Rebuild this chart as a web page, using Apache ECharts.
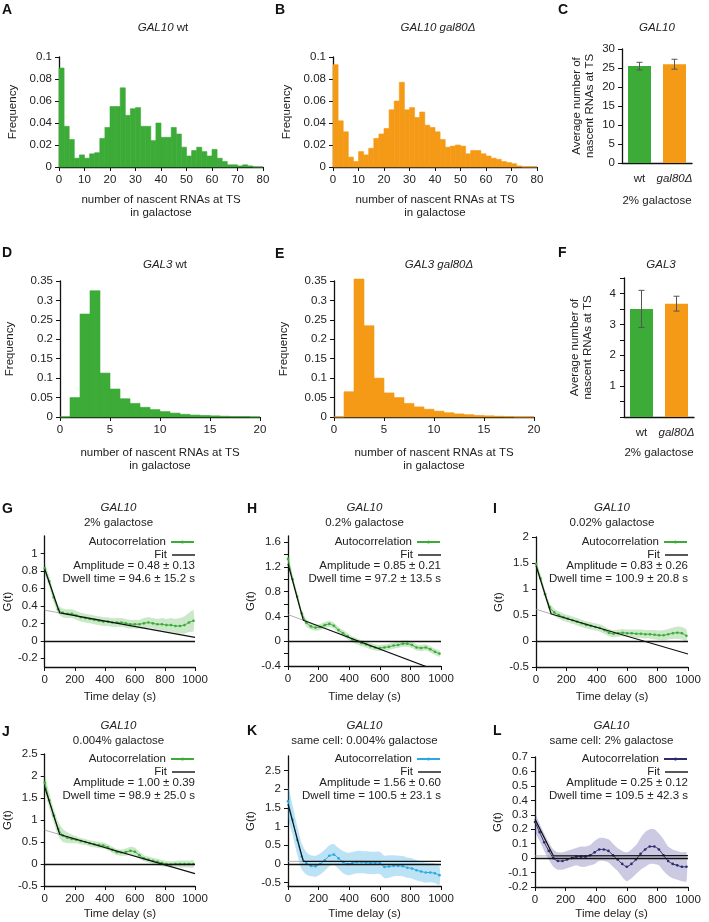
<!DOCTYPE html>
<html>
<head>
<meta charset="utf-8">
<script src="https://cdn.jsdelivr.net/npm/echarts@6.0.0/dist/echarts.min.js"></script>
<style>
  html, body { margin: 0; padding: 0; background: #fff; }
  #chart { width: 709px; height: 922px; }
</style>
</head>
<body>
<div id="chart"></div>
<script>
const FONT = '"Liberation Sans", Arial, sans-serif';
const GREEN = '#3dab37';
const ORANGE = '#f49a16';
const BLUE = '#2aa8e0';
const NAVY = '#2e2b6e';

// --- histograms (frequency per bin) ---
const binA = 2;
const freqA = [0.090, 0.037, 0.025, 0.008, 0.011, 0.008, 0.012, 0.013, 0.026, 0.036,
  0.055, 0.055, 0.072, 0.047, 0.053, 0.054, 0.037, 0.037, 0.024, 0.040,
  0.027, 0.027, 0.036, 0.030, 0.018, 0.010, 0.015, 0.018, 0.014, 0.010,
  0.016, 0.008, 0.005, 0.002, 0.002, 0.001, 0.002, 0.001, 0, 0];
const freqB = [0.093, 0.042, 0.032, 0.009, 0.005, 0.014, 0.011, 0.017, 0.026, 0.030,
  0.035, 0.052, 0.060, 0.077, 0.052, 0.054, 0.045, 0.050, 0.038, 0.036,
  0.032, 0.025, 0.018, 0.019, 0.020, 0.019, 0.012, 0.015, 0.015, 0.012,
  0.010, 0.008, 0.007, 0.005, 0.004, 0.003, 0.001, 0, 0, 0];
const binD = 1;
const freqD = [0, 0.050, 0.265, 0.325, 0.113, 0.072, 0.047, 0.035, 0.025, 0.019,
  0.014, 0.010, 0.007, 0.005, 0.004, 0.003, 0.002, 0.001, 0.001, 0];
const freqE = [0, 0.065, 0.355, 0.235, 0.100, 0.062, 0.050, 0.035, 0.026, 0.020,
  0.015, 0.011, 0.008, 0.006, 0.004, 0.003, 0.002, 0.001, 0, 0];

// --- average bars ---
const barCats = ['wt', 'gal80Δ'];
const meanC = [25.5, 26.0];
const errC = [1.0, 1.3];
const meanF = [3.5, 3.67];
const errF = [0.6, 0.24];

// --- autocorrelation ---
const timeDelay = [0, 30, 60, 90, 120, 150, 180, 210, 240, 270, 300, 330, 360, 390, 420, 450, 480,
  510, 540, 570, 600, 630, 660, 690, 720, 750, 780, 810, 840, 870, 900, 930, 960, 990];

const acG = [0.83, 0.68, 0.50, 0.36, 0.32, 0.31, 0.31, 0.29, 0.27, 0.26, 0.25, 0.24, 0.23, 0.22, 0.22, 0.21, 0.21,
  0.21, 0.20, 0.19, 0.19, 0.19, 0.20, 0.21, 0.20, 0.19, 0.19, 0.18, 0.18, 0.17, 0.17, 0.18, 0.21, 0.23];
const sdG = [0.06, 0.06, 0.06, 0.05, 0.05, 0.05, 0.05, 0.05, 0.05, 0.05, 0.05, 0.05, 0.05, 0.05, 0.05, 0.05, 0.05,
  0.05, 0.05, 0.05, 0.05, 0.05, 0.06, 0.06, 0.06, 0.06, 0.07, 0.07, 0.08, 0.08, 0.09, 0.10, 0.11, 0.12];
const fitG = [[0, 0.82], [100, 0.32], [1000, 0.04]];
const extG = [[0, 0.35], [100, 0.32]];

const acH = [1.33, 1.00, 0.72, 0.45, 0.30, 0.24, 0.22, 0.23, 0.26, 0.28, 0.25, 0.18, 0.13, 0.08, 0.03, 0.00, -0.03,
  -0.05, -0.08, -0.10, -0.11, -0.10, -0.09, -0.07, -0.06, -0.04, -0.04, -0.06, -0.10, -0.11, -0.10, -0.13, -0.17, -0.20];
const sdH = [0.08, 0.07, 0.07, 0.06, 0.06, 0.05, 0.05, 0.05, 0.05, 0.05, 0.05, 0.05, 0.05, 0.05, 0.05, 0.05, 0.05,
  0.05, 0.05, 0.05, 0.05, 0.05, 0.05, 0.05, 0.05, 0.05, 0.05, 0.05, 0.05, 0.05, 0.05, 0.05, 0.05, 0.05];
const fitH = [[0, 1.25], [100, 0.34], [1000, -0.5]];
const extH = [[0, 0.43], [100, 0.34]];

const acI = [1.48, 1.20, 0.90, 0.65, 0.55, 0.50, 0.46, 0.43, 0.40, 0.37, 0.34, 0.31, 0.29, 0.27, 0.25, 0.21, 0.16,
  0.14, 0.15, 0.16, 0.15, 0.15, 0.14, 0.14, 0.13, 0.13, 0.12, 0.11, 0.11, 0.13, 0.15, 0.16, 0.15, 0.10];
const sdI = [0.08, 0.08, 0.08, 0.08, 0.07, 0.07, 0.07, 0.07, 0.07, 0.07, 0.07, 0.07, 0.07, 0.07, 0.07, 0.07, 0.07,
  0.07, 0.07, 0.07, 0.07, 0.07, 0.08, 0.08, 0.08, 0.08, 0.09, 0.09, 0.10, 0.10, 0.11, 0.12, 0.12, 0.12];
const fitI = [[0, 1.45], [100, 0.52], [1000, -0.25]];
const extI = [[0, 0.61], [100, 0.52]];

const acJ = [1.85, 1.45, 1.10, 0.80, 0.65, 0.60, 0.57, 0.55, 0.52, 0.50, 0.47, 0.45, 0.43, 0.42, 0.38, 0.32, 0.27,
  0.26, 0.27, 0.30, 0.28, 0.20, 0.13, 0.10, 0.07, 0.05, 0.02, 0.00, -0.01, 0.00, 0.00, 0.00, 0.00, 0.00];
const sdJ = [0.18, 0.17, 0.16, 0.16, 0.15, 0.12, 0.10, 0.08, 0.07, 0.07, 0.07, 0.07, 0.07, 0.07, 0.07, 0.07, 0.07,
  0.07, 0.08, 0.09, 0.09, 0.08, 0.07, 0.07, 0.07, 0.07, 0.07, 0.07, 0.07, 0.07, 0.08, 0.08, 0.08, 0.08];
const fitJ = [[0, 1.75], [100, 0.67], [1000, -0.22]];
const extJ = [[0, 0.77], [100, 0.67]];

const acK = [1.68, 1.18, 0.64, 0.20, 0.02, -0.05, -0.06, 0.00, 0.10, 0.22, 0.25, 0.15, 0.05, 0.00, 0.02, 0.05, 0.05,
  0.04, 0.03, 0.03, 0.03, -0.08, -0.07, -0.05, -0.05, -0.06, -0.10, -0.12, -0.17, -0.20, -0.23, -0.23, -0.25, -0.30];
const sdK = [0.40, 0.40, 0.38, 0.35, 0.30, 0.28, 0.28, 0.28, 0.28, 0.28, 0.28, 0.28, 0.30, 0.30, 0.30, 0.30, 0.30,
  0.30, 0.30, 0.30, 0.30, 0.30, 0.30, 0.28, 0.27, 0.27, 0.27, 0.27, 0.27, 0.27, 0.27, 0.26, 0.26, 0.26];
const fitK = [[0, 1.6], [100, 0.07], [1000, 0.07]];
const extK = [[0, 0.07], [100, 0.07]];

const acL = [0.25, 0.18, 0.11, 0.05, 0.00, -0.02, -0.02, -0.01, 0.00, 0.01, 0.01, 0.01, 0.02, 0.04, 0.06, 0.06, 0.05,
  0.02, -0.01, -0.04, -0.06, -0.04, -0.01, 0.03, 0.06, 0.08, 0.08, 0.06, 0.02, -0.02, -0.04, -0.05, -0.06, -0.06];
const sdL = [0.06, 0.06, 0.06, 0.06, 0.06, 0.06, 0.06, 0.06, 0.06, 0.06, 0.07, 0.07, 0.07, 0.08, 0.08, 0.08, 0.08,
  0.08, 0.08, 0.09, 0.10, 0.10, 0.10, 0.11, 0.12, 0.12, 0.12, 0.11, 0.11, 0.10, 0.10, 0.10, 0.10, 0.10];
const fitL = [[0, 0.27], [120, 0.015], [1000, 0.017]];
const extL = [[0, 0.015], [120, 0.015]];

const chart = echarts.init(document.getElementById('chart'));

const txt = { fontFamily: FONT, fontSize: 11.5, color: '#222' };
const rich = { i: { fontFamily: FONT, fontSize: 11.5, fontStyle: 'italic', color: '#222' } };

function axisBase() {
  return {
    axisLine: { show: true, onZero: false, lineStyle: { color: '#111', width: 1.3 } },
    axisTick: { show: true, inside: false, length: 4, lineStyle: { color: '#111', width: 1 } },
    axisLabel: Object.assign({ margin: 7, rich: rich }, txt),
    splitLine: { show: false },
    nameTextStyle: Object.assign({ lineHeight: 13 }, txt),
    nameLocation: 'middle'
  };
}

const grids = [];
const xAxes = [];
const yAxes = [];
const series = [];
const titles = [];
const legends = [];

function letter(t, x, y) {
  titles.push({ text: t, left: x, top: y, padding: 0,
    textStyle: { fontFamily: FONT, fontSize: 14, fontWeight: 'bold', color: '#111' } });
}
function centerText(t, x, y) {
  titles.push({ text: t, left: x, top: y - 7, padding: 0, textAlign: 'center',
    textStyle: Object.assign({ fontWeight: 'normal', rich: rich }, txt) });
}

// histogram renderer
function histItem(color) {
  return function (params, api) {
    const p0 = api.coord([api.value(0), api.value(2)]);
    const p1 = api.coord([api.value(1), 0]);
    return { type: 'rect', shape: { x: p0[0], y: p0[1], width: p1[0] - p0[0], height: p1[1] - p0[1] },
      style: { fill: color, stroke: color, lineWidth: 0.6 } };
  };
}

function addHist(g, freq, bin, color, xMax, xInt, yMax, yInt, nameGapY) {
  const gi = grids.length;
  grids.push(g);
  xAxes.push(Object.assign(axisBase(), { gridIndex: gi, type: 'value', min: 0, max: xMax, interval: xInt,
    name: 'number of nascent RNAs at TS\nin galactose', nameGap: g.xGap }));
  yAxes.push(Object.assign(axisBase(), { gridIndex: gi, type: 'value', min: 0, max: yMax, interval: yInt,
    name: 'Frequency', nameGap: nameGapY }));
  series.push({ type: 'custom', xAxisIndex: gi, yAxisIndex: gi, renderItem: histItem(color),
    data: freq.map((f, i) => [i * bin, (i + 1) * bin, f]), z: 2 });
}

function errorBar(params, api) {
  const lo = api.coord([api.value(0), api.value(1)]);
  const hi = api.coord([api.value(0), api.value(2)]);
  const w = 3;
  const st = { stroke: '#555', lineWidth: 1 };
  return { type: 'group', children: [
    { type: 'line', shape: { x1: lo[0], y1: lo[1], x2: hi[0], y2: hi[1] }, style: st },
    { type: 'line', shape: { x1: lo[0] - w, y1: lo[1], x2: lo[0] + w, y2: lo[1] }, style: st },
    { type: 'line', shape: { x1: hi[0] - w, y1: hi[1], x2: hi[0] + w, y2: hi[1] }, style: st }
  ] };
}

function addBars(g, mean, err, yCfg, nameGapY, xGap) {
  const gi = grids.length;
  grids.push(g);
  xAxes.push(Object.assign(axisBase(), { gridIndex: gi, type: 'category', data: barCats,
    axisTick: { show: false }, name: '2% galactose', nameGap: xGap }));
  xAxes[gi].axisLabel.margin = 10;
  xAxes[gi].axisLabel.interval = 0;
  xAxes[gi].axisLabel.hideOverlap = false;
  xAxes[gi].axisLabel.formatter = v => v === 'wt' ? v : '{i|' + v + '}';
  yAxes.push(Object.assign(axisBase(), yCfg, { gridIndex: gi, type: 'value',
    name: 'Average number of\nnascent RNAs at TS', nameGap: nameGapY }));
  series.push({ type: 'bar', xAxisIndex: gi, yAxisIndex: gi, barWidth: 23,
    data: mean.map((v, i) => ({ value: v, itemStyle: { color: [GREEN, ORANGE][i] } })) });
  series.push({ type: 'custom', xAxisIndex: gi, yAxisIndex: gi, renderItem: errorBar, z: 5,
    data: mean.map((v, i) => [i, v - err[i], v + err[i]]) });
}

// top rows
letter('A', 2, 3); letter('B', 275, 3); letter('C', 558, 3);
centerText('{i|GAL10} wt', 163, 29);
centerText('{i|GAL10 gal80Δ}', 438, 29);
centerText('{i|GAL10}', 657, 29);
addHist({ left: 59, top: 57, width: 204, height: 110, xGap: 26 }, freqA, binA, GREEN, 80, 10, 0.1, 0.02, 40);
addHist({ left: 333, top: 57, width: 204, height: 110, xGap: 26 }, freqB, binA, ORANGE, 80, 10, 0.1, 0.02, 40);
addBars({ left: 622, top: 49, width: 70, height: 114 }, meanC, errC, { min: 0, max: 30, interval: 5 }, 26, 31);

letter('D', 2, 246); letter('E', 275, 247); letter('F', 558, 246);
centerText('{i|GAL3} wt', 165, 266);
centerText('{i|GAL3 gal80Δ}', 439, 266);
centerText('{i|GAL3}', 661, 266);
addHist({ left: 60, top: 281, width: 200, height: 136, xGap: 29 }, freqD, binD, GREEN, 20, 5, 0.35, 0.05, 44);
addHist({ left: 334, top: 281, width: 200, height: 136, xGap: 29 }, freqE, binD, ORANGE, 20, 5, 0.35, 0.05, 44);
addBars({ left: 624, top: 278, width: 70, height: 139 }, meanF, errF,
  { min: 0, max: 4.5, axisLabel: Object.assign({ margin: 8, customValues: [1, 2, 3, 4] }, txt),
    axisTick: { show: true, length: 4, lineStyle: { color: '#111' },
      customValues: [0, 0.5, 1, 1.5, 2, 2.5, 3, 3.5, 4, 4.5] } }, 30, 29);

// autocorrelation panels
const acPanels = [
  { key: 'G', ac: acG, sd: sdG, fit: fitG, ext: extG, color: GREEN, band: 'rgba(61,171,55,0.27)',
    grid: { left: 42, top: 536, width: 153, height: 131 }, min: -0.3, max: 1.2,
    labels: [-0.2, 0, 0.2, 0.4, 0.6, 0.8, 1], ticks: [-0.2, 0, 0.2, 0.4, 0.6, 0.8, 1],
    letter: [2, 502], cond: '2% galactose', amp: 'Amplitude = 0.48 ± 0.13', dwell: 'Dwell time = 94.6 ± 15.2 s',
    ty: 509, ly: 542, xGap: 23 },
  { key: 'H', ac: acH, sd: sdH, fit: fitH, ext: extH, color: GREEN, band: 'rgba(61,171,55,0.27)',
    grid: { left: 288, top: 536, width: 153, height: 130 }, min: -0.4, max: 1.7,
    labels: [-0.4, 0, 0.4, 0.8, 1.2, 1.6], ticks: [-0.4, -0.2, 0, 0.2, 0.4, 0.6, 0.8, 1, 1.2, 1.4, 1.6],
    letter: [247, 502], cond: '0.2% galactose', amp: 'Amplitude = 0.85 ± 0.21', dwell: 'Dwell time = 97.2 ± 13.5 s',
    ty: 509, ly: 542, xGap: 24 },
  { key: 'I', ac: acI, sd: sdI, fit: fitI, ext: extI, color: GREEN, band: 'rgba(61,171,55,0.27)',
    grid: { left: 536, top: 537, width: 152, height: 130 }, min: -0.5, max: 2,
    labels: [-0.5, 0, 0.5, 1, 1.5, 2], ticks: [-0.5, 0, 0.5, 1, 1.5, 2],
    letter: [493, 502], cond: '0.02% galactose', amp: 'Amplitude = 0.83 ± 0.26', dwell: 'Dwell time = 100.9 ± 20.8 s',
    ty: 509, ly: 542, xGap: 23 },
  { key: 'J', ac: acJ, sd: sdJ, fit: fitJ, ext: extJ, color: GREEN, band: 'rgba(61,171,55,0.27)',
    grid: { left: 42, top: 754, width: 153, height: 132 }, min: -0.5, max: 2.5,
    labels: [-0.5, 0, 0.5, 1, 1.5, 2, 2.5], ticks: [-0.5, 0, 0.5, 1, 1.5, 2, 2.5],
    letter: [2, 725], cond: '0.004% galactose', amp: 'Amplitude = 1.00 ± 0.39', dwell: 'Dwell time = 98.9 ± 25.0 s',
    ty: 727, ly: 759, xGap: 21 },
  { key: 'K', ac: acK, sd: sdK, fit: fitK, ext: extK, color: BLUE, band: 'rgba(42,168,224,0.32)',
    grid: { left: 288, top: 756, width: 153, height: 130 }, min: -0.59, max: 2.89,
    labels: [-0.5, 0, 0.5, 1, 1.5, 2, 2.5], ticks: [-0.5, 0, 0.5, 1, 1.5, 2, 2.5],
    letter: [247, 724], cond: 'same cell: 0.004% galactose', amp: 'Amplitude = 1.56 ± 0.60', dwell: 'Dwell time = 100.5 ± 23.1 s',
    ty: 727, ly: 759, xGap: 21 },
  { key: 'L', ac: acL, sd: sdL, fit: fitL, ext: extL, color: NAVY, band: 'rgba(70,66,150,0.28)',
    grid: { left: 535, top: 757, width: 153, height: 130 }, min: -0.2, max: 0.7,
    labels: [-0.2, -0.1, 0, 0.1, 0.2, 0.3, 0.4, 0.5, 0.6, 0.7], ticks: [-0.2, -0.1, 0, 0.1, 0.2, 0.3, 0.4, 0.5, 0.6, 0.7],
    letter: [493, 724], cond: 'same cell: 2% galactose', amp: 'Amplitude = 0.25 ± 0.12', dwell: 'Dwell time = 109.5 ± 42.3 s',
    ty: 727, ly: 759, xGap: 20 }
];

acPanels.forEach(p => {
  const gi = grids.length;
  grids.push(p.grid);
  const right = p.grid.left + p.grid.width;
  const cx = p.grid.left + p.grid.width / 2;
  letter(p.key, p.letter[0], p.letter[1]);
  centerText('{i|GAL10}', cx, p.ty);
  centerText(p.cond, cx, p.ty + 15);
  titles.push({ text: p.amp + '\n' + p.dwell, left: right, top: p.ly + 18, padding: 0, textAlign: 'right',
    textStyle: Object.assign({ fontWeight: 'normal', lineHeight: 12.5 }, txt) });

  const xa = Object.assign(axisBase(), { gridIndex: gi, type: 'value', min: 0, max: 1000, interval: 200,
    name: 'Time delay (s)', nameGap: p.xGap });
  xa.axisLabel.formatter = v => String(v);
  xAxes.push(xa);
  const ya = Object.assign(axisBase(), { gridIndex: gi, type: 'value', min: p.min, max: p.max,
    name: 'G(t)', nameGap: 30 });
  ya.axisLabel.customValues = p.labels;
  ya.axisTick.customValues = p.ticks;
  yAxes.push(ya);

  const ac = p.ac, sd = p.sd;
  series.push({ type: 'custom', xAxisIndex: gi, yAxisIndex: gi, silent: true, z: 1, clip: true, data: [[0, 0]],
    renderItem: (params, api) => {
      const up = timeDelay.map((t, i) => api.coord([t, ac[i] + sd[i]]));
      const lo = timeDelay.map((t, i) => api.coord([t, ac[i] - sd[i]])).reverse();
      return { type: 'polygon', shape: { points: up.concat(lo), smooth: 0.25 }, style: { fill: p.band } };
    } });
  series.push({ type: 'line', xAxisIndex: gi, yAxisIndex: gi, data: p.ext, symbol: 'none', silent: true, z: 2,
    lineStyle: { color: '#999', width: 0.8 } });
  series.push({ type: 'line', name: 'Autocorrelation|' + p.key, xAxisIndex: gi, yAxisIndex: gi,
    data: timeDelay.map((t, i) => [t, ac[i]]), smooth: 0.2, symbol: 'circle', symbolSize: 2.6, z: 3,
    lineStyle: { color: p.color, width: 1 }, itemStyle: { color: p.color } });
  series.push({ type: 'line', name: 'Fit|' + p.key, xAxisIndex: gi, yAxisIndex: gi, data: p.fit,
    symbol: 'none', z: 4, lineStyle: { color: '#111', width: 1.2 }, itemStyle: { color: '#111' },
    markLine: { silent: true, symbol: 'none', label: { show: false },
      lineStyle: { color: '#111', width: 1.3, type: 'solid' }, data: [{ yAxis: 0 }] } });

  const legText = Object.assign({ lineHeight: 13 }, txt);
  legends.push({ data: ['Autocorrelation|' + p.key], formatter: n => n.split('|')[0],
    align: 'right', right: 709 - right, top: p.ly - 6.5, padding: 0,
    itemWidth: 23, itemHeight: 4, selectedMode: false, textStyle: legText });
  legends.push({ data: [{ name: 'Fit|' + p.key, icon: 'rect' }], formatter: n => n.split('|')[0],
    align: 'right', right: 709 - right, top: p.ly + 6.5, padding: 0,
    itemWidth: 23, itemHeight: 1.4, selectedMode: false, textStyle: legText });
});

chart.setOption({
  animation: false,
  backgroundColor: '#fff',
  title: titles,
  legend: legends,
  grid: grids,
  xAxis: xAxes,
  yAxis: yAxes,
  series: series
});
</script>
</body>
</html>
